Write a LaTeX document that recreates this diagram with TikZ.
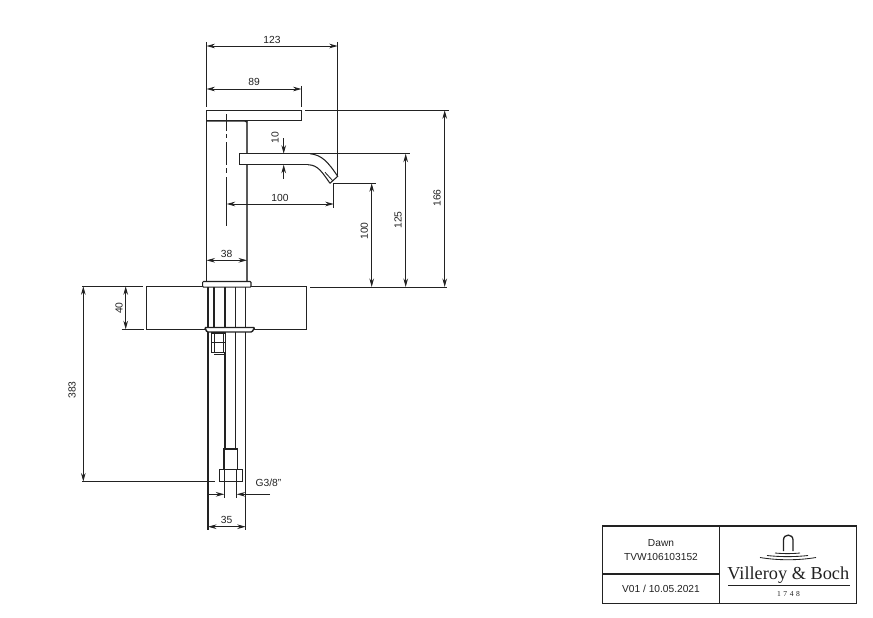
\documentclass[tikz,border=0pt]{standalone}
\usepackage{fontspec}
\setmainfont{Liberation Sans}
\newfontfamily\logoserif{Liberation Serif}
\usetikzlibrary{arrows.meta}
\definecolor{ink}{HTML}{222222}
\tikzset{
  part/.style={draw=ink,line width=1.05pt},
  heavy/.style={draw=ink,line width=1.4pt},
  soft/.style={draw=ink!75,line width=1.4pt},
  thinl/.style={draw=ink,line width=0.85pt},
  dim/.style={draw=ink,line width=0.85pt,{Stealth[length=8.5pt,width=4.6pt]}-{Stealth[length=8.5pt,width=4.6pt]}},
  tipin/.style={draw=ink,line width=0.85pt,-{Stealth[length=8.5pt,width=4.6pt]}},
  lbl/.style={font=\fontsize{10.3}{12}\selectfont,text=ink,inner sep=0pt},
  vlbl/.style={lbl,rotate=90},
  tb/.style={font=\fontsize{10.2}{12}\selectfont,text=ink,inner sep=0pt},
}
\begin{document}
\begin{tikzpicture}[x=1pt,y=-1pt]
\useasboundingbox (0,0) rectangle (873,618);
% lever, body
\draw[part] (206.5,110.3) rectangle (301.5,120.3);
\draw[part] (206.5,120.8) -- (206.5,281.5);
\draw[soft] (247,121) -- (247,153.7);
\draw[soft] (247,164.7) -- (247,281.5);
\draw[heavy] (206.5,121) -- (245,121) -- (247,122);
% centre line
\draw[thinl,dash pattern=on 17pt off 3pt on 4pt off 4pt on 23pt off 3pt on 5pt off 4pt on 49pt off 2pt on 3pt off 2pt on 37pt] (226.7,114) -- (226.7,226);
% spout
\draw[part] (310,153.7) -- (239.3,153.7) -- (239.3,164.7) -- (308,164.7);
\draw[part] (310,153.7) .. controls (322,155) and (328,162) .. (337.7,176.3) -- (330,183.3);
\draw[part] (308,164.7) .. controls (318,165) and (322,172) .. (330,183.3);
\draw[thinl] (325,172.3) -- (332.7,180.7);
% flange, slab
\draw[part] (146.7,286.6) rectangle (306.7,329.3);
\fill[white] (207,287.8) rectangle (246.5,328);
\draw[part,rounded corners=0.8pt,fill=white] (202.7,281.5) rectangle (251,287.2);
\foreach \xx in {208,214,235.7,245.7}{\draw[part] (\xx,287.2) -- (\xx,327.5);}
\draw[heavy] (225,287.2) -- (225,327.5);
\draw[heavy,fill=white,rounded corners=1pt] (204.7,327.5) -- (254.7,327.5) -- (252,332) -- (207,332) -- cycle;
% tails
\draw[part] (208,332) -- (208,530);
\draw[part] (245.7,332) -- (245.7,530);
\draw[part] (225,352) -- (225,449);
\draw[part] (235.7,332) -- (235.7,449);
% small nut
\draw[part] (211.7,333) rectangle (225.7,352.7);
\draw[thinl] (214,333) -- (214,352.7) (223.3,333) -- (223.3,352.7);
\draw[thinl] (211.7,342) -- (225.7,342);
\draw[heavy] (214,354.5) -- (224,354.5);
% hose end
\draw[part] (224,469.3) -- (224,449) -- (237.3,449) -- (237.3,469.3);
\draw[part] (219.3,469.3) rectangle (242.3,481.7);
\draw[thinl] (224.3,469.3) -- (224.3,498) (236.7,469.3) -- (236.7,498);
% extension lines
\draw[thinl] (206.5,42) -- (206.5,106.5);
\draw[thinl] (337.7,42) -- (337.7,176.3);
\draw[thinl] (301.5,86) -- (301.5,106.7);
\draw[thinl] (305,110.3) -- (448.7,110.3);
\draw[thinl] (310,153.7) -- (410,153.7);
\draw[thinl] (375.7,183.3) -- (333.7,183.3) -- (333.7,208);
\draw[thinl] (310,287) -- (447,287);
\draw[thinl] (82,286.3) -- (143,286.3);
\draw[thinl] (121.7,329.3) -- (144,329.3);
\draw[thinl] (82,481.5) -- (215,481.5);
% dimensions
\draw[dim] (206.5,46) -- (337.7,46);
\draw[dim] (206.5,89) -- (301.5,89);
\draw[dim] (226.7,204) -- (333.7,204);
\draw[dim] (206.5,260.3) -- (247,260.3);
\draw[dim] (208,526.7) -- (245.7,526.7);
\draw[dim] (444.7,110.3) -- (444.7,287);
\draw[dim] (405.7,153.7) -- (405.7,287);
\draw[dim] (371.7,183.3) -- (371.7,287);
\draw[dim] (125.7,286.3) -- (125.7,329.3);
\draw[dim] (83.3,286.3) -- (83.3,481.5);
\draw[tipin] (283.7,138) -- (283.7,153.7);
\draw[tipin] (283.7,179) -- (283.7,164.7);
\draw[tipin] (208,494.3) -- (224.3,494.3);
\draw[tipin] (270,494.3) -- (236.7,494.3);
% labels
\node[lbl] (d123) at (272,39.5) {123};
\node[lbl] (d89) at (254,82) {89};
\node[lbl] (d100h) at (280,197.5) {100};
\node[lbl] (d38) at (226.7,253.5) {38};
\node[lbl] (d35) at (226.7,519.5) {35};
\node[lbl] (dg) at (268.5,483) {G3/8"};
\node[vlbl] (d10) at (275,137.3) {10};
\node[vlbl] (d166) at (437,198) {166};
\node[vlbl] (d125) at (398,220) {125};
\node[vlbl] (d100v) at (364.3,231) {100};
\node[vlbl] (d40) at (119,308) {40};
\node[vlbl] (d383) at (72,390) {383};
% title block
\draw[heavy] (602.3,526) rectangle (856.7,603.3);
\draw[heavy] (719.7,526) -- (719.7,603.3);
\draw[heavy] (602.3,574) -- (719.7,574);
\node[tb] (tname) at (661,543.5) {Dawn};
\node[tb] (tcode) at (661,556.5) {TVW106103152};
\node[tb] (tver) at (661,588.5) {V01 / 10.05.2021};
% logo
\draw[draw=ink,line width=1.3pt] (783.5,551) -- (783.5,540) .. controls (783.5,533.5) and (793,533.5) .. (793,540) -- (793,551);
\draw[thinl] (775,553) .. controls (783,553.8) and (792,553.8) .. (800,553);
\draw[thinl] (767,555.5) .. controls (780,557) and (795,557) .. (808,555.5);
\draw[thinl] (760,557.5) .. controls (778,560.5) and (798,560.5) .. (816,557.5);
\node[inner sep=0pt,text=ink,font=\logoserif\fontsize{18.3}{20}\selectfont] (logo) at (788.3,575.5) {Villeroy \& Boch};
\draw[thinl] (728,585) -- (850,585);
\node[inner sep=0pt,text=ink,font=\logoserif\fontsize{7.6}{9}\selectfont] (year) at (788.5,593.7) {1\hspace{2.6pt}7\hspace{2.6pt}4\hspace{2.6pt}8};
\end{tikzpicture}
\end{document}
